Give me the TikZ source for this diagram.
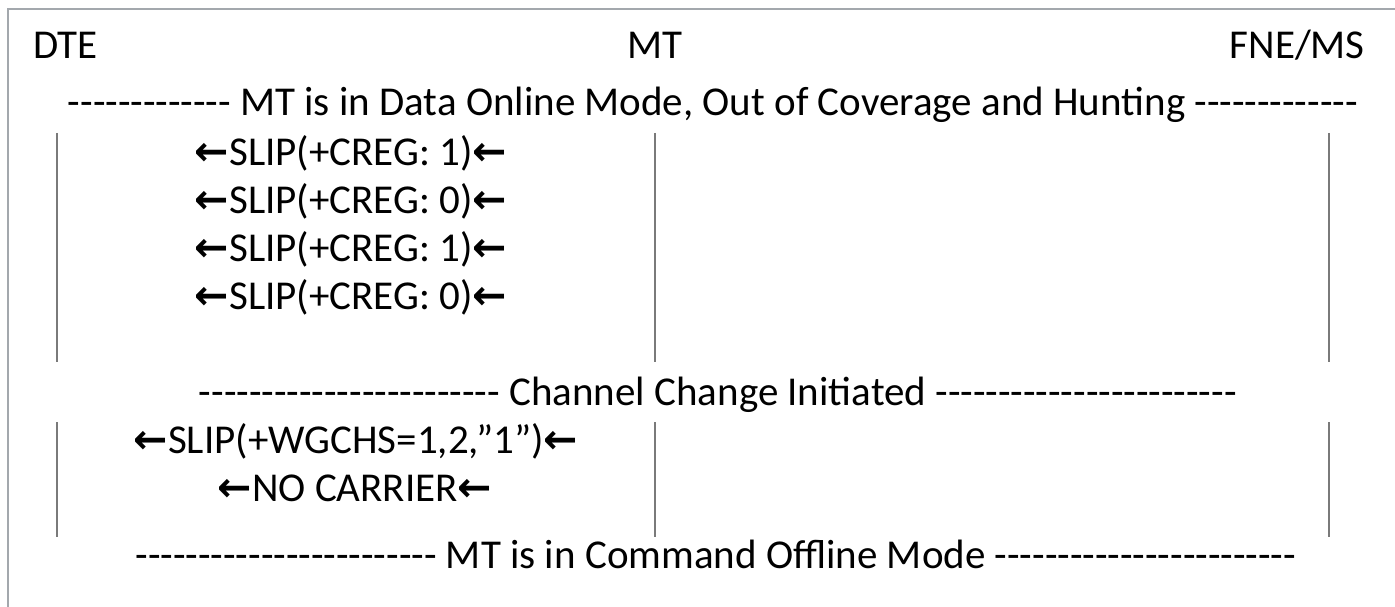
\documentclass[tikz,border=0pt]{standalone}
\usepackage{fontspec}
\setmainfont{Carlito}
\newfontfamily\arrowfont{DejaVu Sans}
\usetikzlibrary{positioning}
\definecolor{framegrey}{HTML}{A3A8AD}
\definecolor{linegrey}{HTML}{7A7A7A}
% hyphens one by one, so no en/em dash ligature is formed
\newcommand\dashrun[1]{\foreach\k in {1,...,#1}{-\kern0pt}}
\newcommand\larr{{\arrowfont\bfseries\char"2190}}
\tikzset{
  every picture/.style={x=1pt, y=-1pt},
  every node/.style={font=\fontsize{41}{48}\selectfont, inner sep=0pt, anchor=base},
  party/.style={},
  msg/.style={},
  phase/.style={},
  life/.style={draw=linegrey, line width=1.3pt},
}

\begin{document}
\begin{tikzpicture}
  \useasboundingbox (0,0) rectangle (1395,607);
  \draw[framegrey, line width=1.5pt] (8,607) -- (8,9) -- (1395,9);

  % parties
  \node[party, anchor=base west] (dte) at (33,59) {DTE};
  \node[party] (mt) at (655,59) {MT};
  \node[party, anchor=base east] (fne) at (1365,59) {FNE/MS};

  % phases
  \node[phase] (online) at (713,116) {\dashrun{13} MT is in Data Online Mode, Out of Coverage and Hunting \dashrun{13}};
  \node[phase] (chg) at (718,405) {\dashrun{24} Channel Change Initiated \dashrun{24}};
  \node[phase] (offline) at (716,568) {\dashrun{24} MT is in Command Offline Mode \dashrun{24}};

  % lifelines
  \foreach \x/\n in {57/d, 655/m, 1329/f} {
    \coordinate (\n1) at (\x,133);
    \coordinate (\n2) at (\x,362);
    \coordinate (\n3) at (\x,422);
    \coordinate (\n4) at (\x,537);
    \draw[life] (\n1) -- (\n2);
    \draw[life] (\n3) -- (\n4);
  }

  % messages MT -> DTE
  \node[msg] (c1) at (351,165) {\larr SLIP(+CREG: 1)\larr};
  \node[msg] (c2) at (351,213) {\larr SLIP(+CREG: 0)\larr};
  \node[msg] (c3) at (351,261) {\larr SLIP(+CREG: 1)\larr};
  \node[msg] (c4) at (351,309) {\larr SLIP(+CREG: 0)\larr};
  \node[msg] (w) at (356,453) {\larr SLIP(+WGCHS=1,2,”1”)\larr};
  \node[msg] (nc) at (355,501) {\larr NO CARRIER\larr};
\end{tikzpicture}
\end{document}
